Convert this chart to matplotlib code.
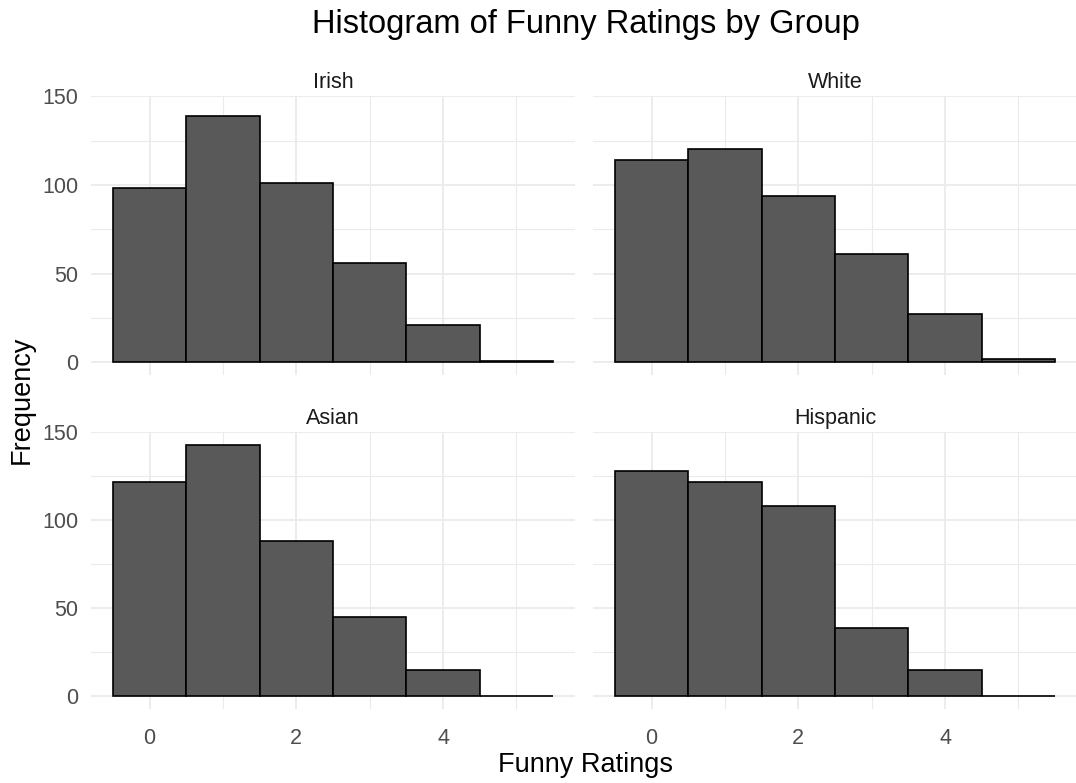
import matplotlib.pyplot as plt

plt.rcParams["font.family"] = ["Liberation Sans", "DejaVu Sans"]

# counts per rating (0-5) for each group
ratings = [0, 1, 2, 3, 4, 5]
irish = [98, 139, 101, 56, 21, 1]
white = [114, 120, 94, 61, 27, 2]
asian = [122, 143, 88, 45, 15, 0]
hispanic = [128, 122, 108, 39, 15, 0]

groups = ["Irish", "White", "Asian", "Hispanic"]
counts = [irish, white, asian, hispanic]

W, H = 1076, 783
fig = plt.figure(figsize=(W / 100, H / 100), dpi=100)
fig.patch.set_facecolor("white")

# panel boxes in pixels: left, top, width, height
boxes = [
    (91, 96, 484, 279),
    (593, 96, 484, 279),
    (91, 432, 484, 277),
    (593, 432, 484, 277),
]

ymax = max(max(c) for c in counts)
ylim = (-0.05 * ymax, 1.05 * ymax)

for i, (name, vals, (l, t, w, h)) in enumerate(zip(groups, counts, boxes)):
    ax = fig.add_axes([l / W, (H - t - h) / H, w / W, h / H])
    ax.set_xlim(-0.8, 5.8)
    ax.set_ylim(*ylim)
    for s in ax.spines.values():
        s.set_visible(False)

    # grid: major and minor lines like theme_minimal
    for x in [0, 2, 4]:
        ax.axvline(x, color="#EBEBEB", lw=1.3, zorder=0)
    for x in [1, 3, 5]:
        ax.axvline(x, color="#EBEBEB", lw=0.8, zorder=0)
    for y in [0, 50, 100, 150]:
        ax.axhline(y, color="#EBEBEB", lw=1.3, zorder=0)
    for y in [25, 75, 125]:
        ax.axhline(y, color="#EBEBEB", lw=0.8, zorder=0)

    ax.bar(ratings, vals, width=1, color="#595959", edgecolor="black",
           linewidth=1.2, zorder=2)

    ax.set_xticks([0, 2, 4])
    ax.set_yticks([0, 50, 100, 150])
    ax.tick_params(length=0, labelsize=15.5, labelcolor="#4D4D4D", pad=9)
    if i % 2 == 1:
        ax.set_yticklabels([])
    if i < 2:
        ax.set_xticklabels([])
    else:
        ax.tick_params(axis="x", pad=14)

    ax.set_title(name, fontsize=15.5, color="#1A1A1A", pad=6)

fig.text(586 / W, 1 - 25 / H, "Histogram of Funny Ratings by Group",
         ha="center", va="center", fontsize=23.5, color="black")
fig.text(586 / W, 1 - 765 / H, "Funny Ratings", ha="center", va="center",
         fontsize=19.5, color="black")
fig.text(22 / W, 1 - 400 / H, "Frequency", ha="center", va="center",
         rotation=90, fontsize=19.5, color="black")

fig.savefig("out.png", dpi=100, facecolor="white")
